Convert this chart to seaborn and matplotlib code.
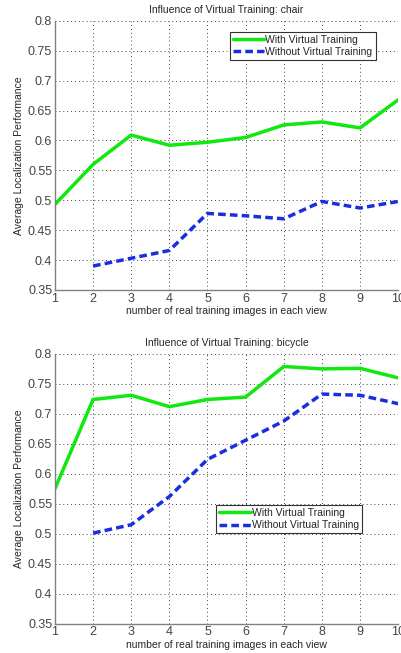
import matplotlib
matplotlib.use('Agg')
import matplotlib.pyplot as plt
import pandas as pd
import seaborn as sns

# Data
n_images = [1, 2, 3, 4, 5, 6, 7, 8, 9, 10]
chair_with = [0.493, 0.560, 0.609, 0.592, 0.597, 0.605, 0.626, 0.631, 0.621, 0.668]
chair_without = [None, 0.390, 0.403, 0.416, 0.478, 0.474, 0.469, 0.498, 0.487, 0.498]
bicycle_with = [0.575, 0.724, 0.731, 0.712, 0.724, 0.728, 0.779, 0.775, 0.776, 0.760]
bicycle_without = [None, 0.501, 0.515, 0.562, 0.624, 0.656, 0.688, 0.733, 0.731, 0.717]
series_names = ['With Virtual Training', 'Without Virtual Training']
y_ticks = [0.35, 0.4, 0.45, 0.5, 0.55, 0.6, 0.65, 0.7, 0.75, 0.8]

sns.set_style('whitegrid')
plt.rcParams['font.family'] = ['Liberation Sans', 'DejaVu Sans']


def long_df(with_vals, without_vals):
    df = pd.DataFrame({'x': n_images, series_names[0]: with_vals, series_names[1]: without_vals})
    df = df.melt(id_vars='x', var_name='series', value_name='perf').dropna()
    return df


def draw_panel(ax, df, title, legend_box):
    sns.lineplot(data=df, x='x', y='perf', hue='series', style='series',
                 palette={series_names[0]: '#10e810', series_names[1]: '#1a2ee0'},
                 dashes={series_names[0]: '', series_names[1]: (2.2, 1.2)},
                 linewidth=2.5, ax=ax, legend=True)
    ax.set_xlim(1, 10)
    ax.set_ylim(0.35, 0.8)
    ax.set_xticks(n_images)
    ax.set_yticks(y_ticks)
    ax.set_yticklabels([f'{v:g}' for v in y_ticks])
    ax.grid(True, linestyle=(0, (1, 3)), color='#444444', linewidth=0.7)
    for side in ['top', 'right']:
        ax.spines[side].set_visible(False)
    for side in ['left', 'bottom']:
        ax.spines[side].set_color('#808080')
        ax.spines[side].set_linewidth(1.0)
    ax.tick_params(direction='in', length=3, labelsize=9, colors='#444444', pad=2)
    ax.set_title(title, fontsize=7.5, pad=6)
    ax.set_xlabel('number of real training images in each view', fontsize=7.5, labelpad=1)
    ax.set_ylabel('Average Localization Performance', fontsize=7.5, labelpad=3)
    leg = ax.legend(loc='upper left', bbox_to_anchor=legend_box, fontsize=7.5,
                    frameon=True, fancybox=False, handlelength=3.0,
                    handletextpad=0.1, borderpad=0.3, labelspacing=0.2,
                    borderaxespad=0)
    leg.get_frame().set_edgecolor('#333333')
    leg.get_frame().set_linewidth(0.8)
    leg.get_frame().set_alpha(1)


fig = plt.figure(figsize=(4.01, 6.53), dpi=100)
ax1 = fig.add_axes([0.137, 0.556, 0.856, 0.412])
ax2 = fig.add_axes([0.137, 0.045, 0.856, 0.413])

draw_panel(ax1, long_df(chair_with, chair_without),
           'Influence of Virtual Training: chair', (0.51, 0.96))
draw_panel(ax2, long_df(bicycle_with, bicycle_without),
           'Influence of Virtual Training: bicycle', (0.47, 0.44))

fig.savefig('out.png', dpi=100)
